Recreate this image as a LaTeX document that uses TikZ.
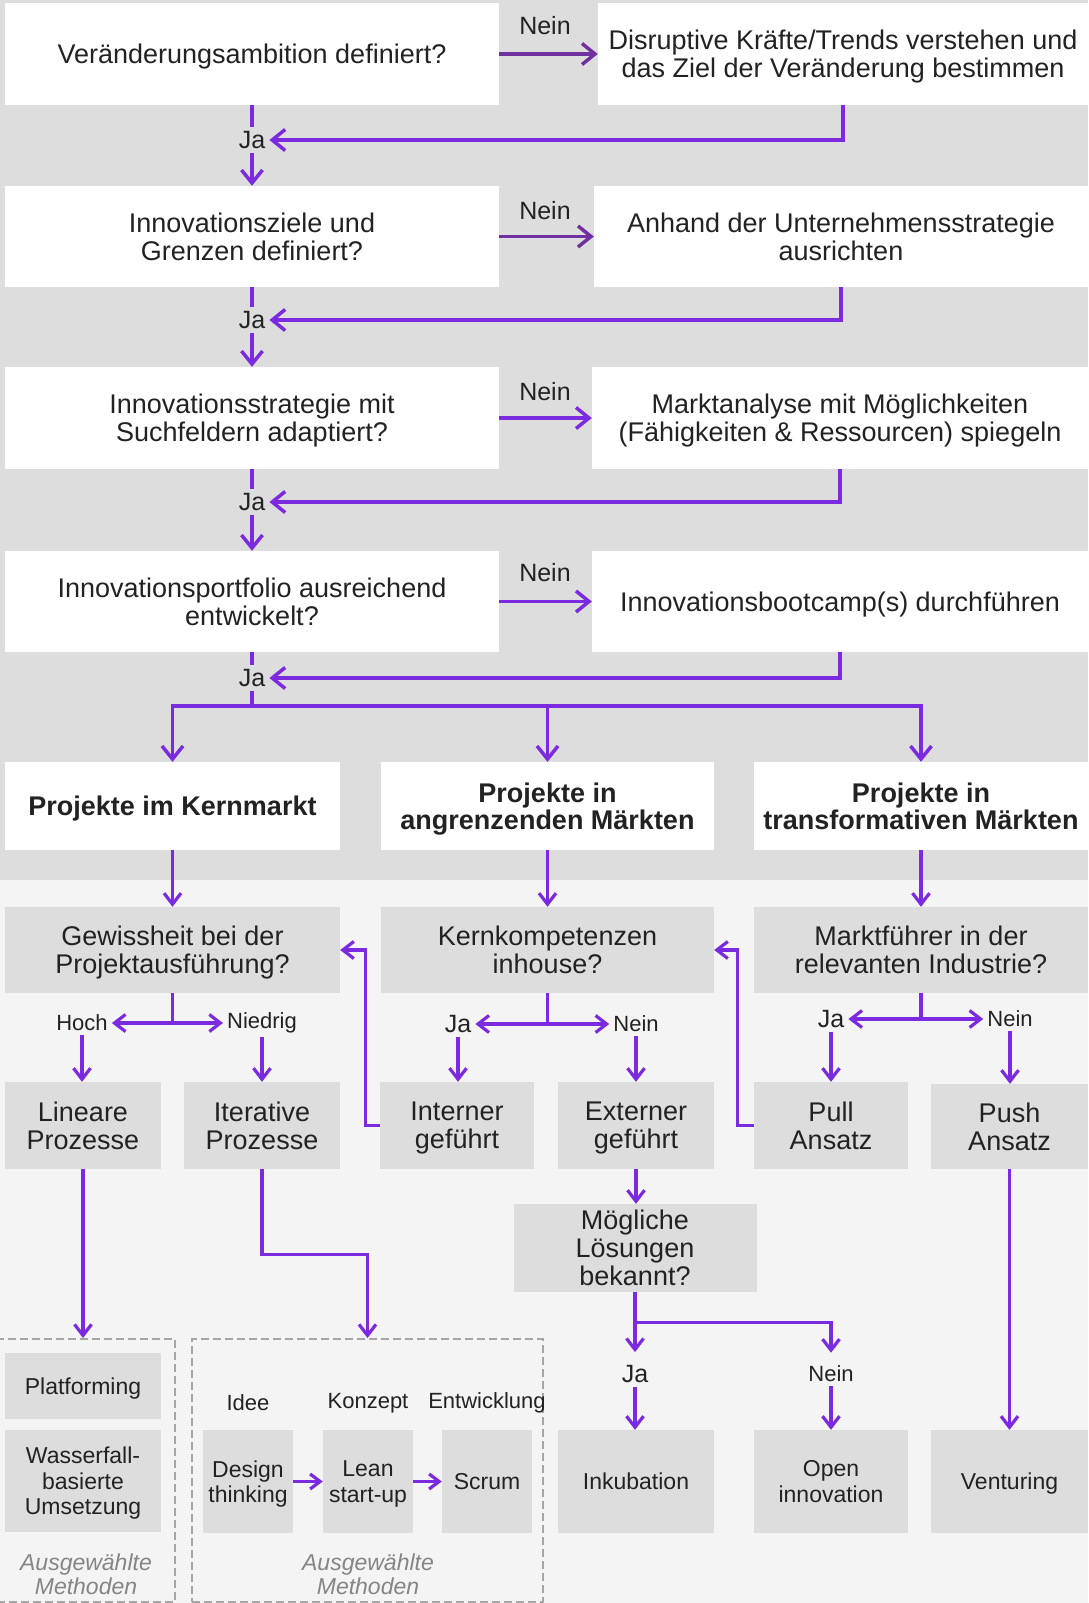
\documentclass[tikz,border=0pt]{standalone}
\usepackage{fontspec}
\setmainfont{Liberation Sans}
\usetikzlibrary{arrows.meta, positioning}

\definecolor{lila}{HTML}{7B2AE0}
\definecolor{lilaDunkel}{HTML}{7030A0}
\definecolor{ink}{HTML}{222222}
\definecolor{bgOben}{HTML}{DDDDDD}
\definecolor{bgUnten}{HTML}{F4F4F4}
\definecolor{boxGrau}{HTML}{DDDDDD}
\definecolor{rahmen}{HTML}{A6A6A6}
\definecolor{hinweis}{HTML}{858585}

\newcommand{\fsz}[2]{\fontsize{#1}{#2}\selectfont}

\begin{document}
\begin{tikzpicture}[
  x=1pt, y=-1pt,
  >={Straight Barb[length=13pt,width=21pt]},
  conn/.style={draw=lila, line width=3.5pt},
  kurz/.style={>={Straight Barb[length=11pt,width=17pt]}, line width=3.2pt},
  box/.style={inner sep=0pt, align=center, text=ink, text depth=0pt, font=\fsz{27}{28}},
  frage/.style={box, fill=white},
  gbox/.style={box, fill=boxGrau},
  kbox/.style={box, fill=boxGrau, text depth=-4pt, font=\fsz{23}{25.5}},
  lab/.style={text=ink, inner sep=4pt, font=\fsz{25}{26}},
  slab/.style={text=ink, inner sep=4pt, font=\fsz{22}{24}},
  methode/.style={draw=rahmen, line width=2pt, dash pattern=on 8pt off 4pt, inner sep=0pt},
  note/.style={text=hinweis, align=center, font=\itshape\fsz{23}{24}}
]
  \useasboundingbox (0,0) rectangle (1088,1603);
  \fill[bgOben] (0,0) rectangle (1088,880);
  \fill[bgUnten] (0,880) rectangle (1088,1603);

  % Fragen links, Massnahmen rechts
  \node[frage, minimum width=494, minimum height=102] (a1) at (252,54) {Veränderungsambition definiert?};
  \node[frage, minimum width=490, minimum height=102] (b1) at (843,54) {Disruptive Kräfte/Trends verstehen und\\das Ziel der Veränderung bestimmen};
  \node[frage, minimum width=494, minimum height=101] (a2) at (252,236.5) {Innovationsziele und\\Grenzen definiert?};
  \node[frage, minimum width=494, minimum height=101] (b2) at (841,236.5) {Anhand der Unternehmensstrategie\\ausrichten};
  \node[frage, minimum width=494, minimum height=102] (a3) at (252,418) {Innovationsstrategie mit\\Suchfeldern adaptiert?};
  \node[frage, minimum width=496, minimum height=102] (b3) at (840,418) {Marktanalyse mit Möglichkeiten\\(Fähigkeiten \& Ressourcen) spiegeln};
  \node[frage, minimum width=494, minimum height=101] (a4) at (252,601.5) {Innovationsportfolio ausreichend\\entwickelt?};
  \node[frage, minimum width=496, minimum height=101] (b4) at (840,601.5) {Innovationsbootcamp(s) durchführen};

  \node[lab] (nein1) at (545,26) {Nein};
  \node[lab] (nein2) at (545,211) {Nein};
  \node[lab] (nein3) at (545,392) {Nein};
  \node[lab] (nein4) at (545,573) {Nein};
  \node[lab] (ja1) at (252,140) {Ja};
  \node[lab] (ja2) at (252,320) {Ja};
  \node[lab] (ja3) at (252,502) {Ja};
  \node[lab] (ja4) at (252,678) {Ja};

  \draw[conn, ->, draw=lilaDunkel] (a1) -- (b1);
  \draw[conn, ->, draw=lilaDunkel] (a2) -- (b2);
  \draw[conn, ->] (a3) -- (b3);
  \draw[conn, ->] (a4) -- (b4);
  \draw[conn, ->] (b1.south) |- (ja1);
  \draw[conn, ->] (b2.south) |- (ja2);
  \draw[conn, ->] (b3.south) |- (ja3);
  \draw[conn, ->] (b4.south) |- (ja4);
  \draw[conn] (a1) -- (ja1);
  \draw[conn, ->] (ja1) -- (a2);
  \draw[conn] (a2) -- (ja2);
  \draw[conn, ->] (ja2) -- (a3);
  \draw[conn] (a3) -- (ja3);
  \draw[conn, ->] (ja3) -- (a4);
  \draw[conn] (a4) -- (ja4);

  % drei Projektarten
  \node[frage, font=\bfseries\fsz{27}{27.5}, minimum width=335, minimum height=88] (p1) at (172.5,806) {Projekte im Kernmarkt};
  \node[frage, font=\bfseries\fsz{27}{27.5}, minimum width=333, minimum height=88] (p2) at (547.5,806) {Projekte in\\angrenzenden Märkten};
  \node[frage, font=\bfseries\fsz{27}{27.5}, minimum width=334, minimum height=88] (p3) at (921,806) {Projekte in\\transformativen Märkten};

  \coordinate (ast) at (252,706);
  \draw[conn] (ja4) -- (ast);
  \draw[conn, ->] (ast) -| (p1.north);
  \draw[conn, ->] (ast) -| (p3.north);
  \draw[conn, ->] (p2.north |- ast) -- (p2.north);

  % zweite Ebene
  \node[gbox, minimum width=335, minimum height=86] (q1) at (172.5,950) {Gewissheit bei der\\Projektausführung?};
  \node[gbox, minimum width=333, minimum height=86] (q2) at (547.5,950) {Kernkompetenzen\\inhouse?};
  \node[gbox, minimum width=334, minimum height=86] (q3) at (921,950) {Marktführer in der\\relevanten Industrie?};
  \draw[conn, ->, kurz] (p1) -- (q1);
  \draw[conn, ->, kurz] (p2) -- (q2);
  \draw[conn, ->, kurz] (p3) -- (q3);

  \node[slab] (hoch) at (82,1023) {Hoch};
  \node[slab] (niedrig) at (262,1023) {Niedrig};
  \node[lab] (ja5) at (458,1024) {Ja};
  \node[slab] (nein5) at (636,1024) {Nein};
  \node[lab] (ja6) at (831,1019) {Ja};
  \node[slab] (nein6) at (1010,1019) {Nein};

  \draw[conn, kurz] (q1.south) -- (q1.south |- hoch) coordinate (q1b);
  \draw[conn, ->, kurz] (q1b) -- (hoch);
  \draw[conn, ->, kurz] (q1b) -- (niedrig);
  \draw[conn, kurz] (q2.south) -- (q2.south |- ja5) coordinate (q2b);
  \draw[conn, ->, kurz] (q2b) -- (ja5);
  \draw[conn, ->, kurz] (q2b) -- (nein5);
  \draw[conn, kurz] (q3.south) -- (q3.south |- ja6) coordinate (q3b);
  \draw[conn, ->, kurz] (q3b) -- (ja6);
  \draw[conn, ->, kurz] (q3b) -- (nein6);

  \node[gbox, minimum width=156, minimum height=87] (r1) at (83,1125.5) {Lineare\\Prozesse};
  \node[gbox, minimum width=156, minimum height=87] (r2) at (262,1125.5) {Iterative\\Prozesse};
  \node[gbox, minimum width=154, minimum height=87] (r3) at (457,1125.5) {Interner\\geführt};
  \node[gbox, minimum width=156, minimum height=87] (r4) at (636,1125.5) {Externer\\geführt};
  \node[gbox, minimum width=154, minimum height=87] (r5) at (831,1125.5) {Pull\\Ansatz};
  \node[gbox, minimum width=157, minimum height=85] (r6) at (1009.5,1126.5) {Push\\Ansatz};

  \draw[conn, ->, kurz] (hoch) -- (hoch |- r1.north);
  \draw[conn, ->, kurz] (niedrig) -- (niedrig |- r2.north);
  \draw[conn, ->, kurz] (ja5) -- (ja5 |- r3.north);
  \draw[conn, ->, kurz] (nein5) -- (nein5 |- r4.north);
  \draw[conn, ->, kurz] (ja6) -- (ja6 |- r5.north);
  \draw[conn, ->, kurz] (nein6) -- (nein6 |- r6.north);
  \draw[conn, ->, kurz] (r3.west) -- ++(-14,0) |- (q1.east);
  \draw[conn, ->, kurz] (r5.west) -- ++(-16,0) |- (q2.east);

  % externe Loesungen
  \node[gbox, minimum width=243, minimum height=88] (s) at (635,1248) {Mögliche\\Lösungen\\bekannt?};
  \draw[conn, ->, kurz] (r4.south) -- (r4.south |- s.north);
  \node[lab] (ja7) at (635,1374) {Ja};
  \node[slab] (nein7) at (831,1374) {Nein};
  \draw[conn, ->, kurz, shorten >=9pt] (s.south) -- (ja7);
  \draw[conn, ->, kurz, shorten >=9pt] (s.south) ++(0,30) -| (nein7);

  \node[kbox, minimum width=156, minimum height=103] (t1) at (636,1481.5) {Inkubation};
  \node[kbox, minimum width=154, minimum height=103] (t2) at (831,1481.5) {Open\\innovation};
  \node[kbox, minimum width=157, minimum height=103] (t3) at (1009.5,1481.5) {Venturing};
  \draw[conn, ->, kurz] (ja7) -- (ja7 |- t1.north);
  \draw[conn, ->, kurz] (nein7) -- (nein7 |- t2.north);
  \draw[conn, ->, kurz] (r6) -- (t3);

  % ausgewaehlte Methoden
  \node[methode, minimum width=178, minimum height=263] (m1) at (86,1470.5) {};
  \node[methode, minimum width=351, minimum height=263] (m2) at (367.5,1470.5) {};
  \draw[conn, ->, kurz] (r1.south) -- (r1.south |- m1.north);
  \draw[conn, ->, kurz] (r2.south) -- ++(0,85) -| (m2.north);

  \node[kbox, minimum width=156, minimum height=66] (plat) at (83,1386) {Platforming};
  \node[kbox, minimum width=156, minimum height=102] (wasser) at (83,1481) {Wasserfall-\\basierte\\Umsetzung};
  \node[note] (hin1) at (86,1574) {Ausgewählte\\Methoden};

  \node[slab] (idee) at (248,1403) {Idee};
  \node[slab] (konzept) at (368,1403) {Konzept};
  \node[slab] (entw) at (487,1403) {Entwicklung};
  \node[kbox, minimum width=90, minimum height=103] (design) at (248,1481.5) {Design\\thinking};
  \node[kbox, minimum width=90, minimum height=103] (lean) at (368,1481.5) {Lean\\start-up};
  \node[kbox, minimum width=90, minimum height=103] (scrum) at (487,1481.5) {Scrum};
  \draw[conn, ->, kurz, >={Straight Barb[length=10pt,width=15pt]}] (design) -- (lean);
  \draw[conn, ->, kurz, >={Straight Barb[length=10pt,width=15pt]}] (lean) -- (scrum);
  \node[note] (hin2) at (368,1574) {Ausgewählte\\Methoden};
\end{tikzpicture}
\end{document}
